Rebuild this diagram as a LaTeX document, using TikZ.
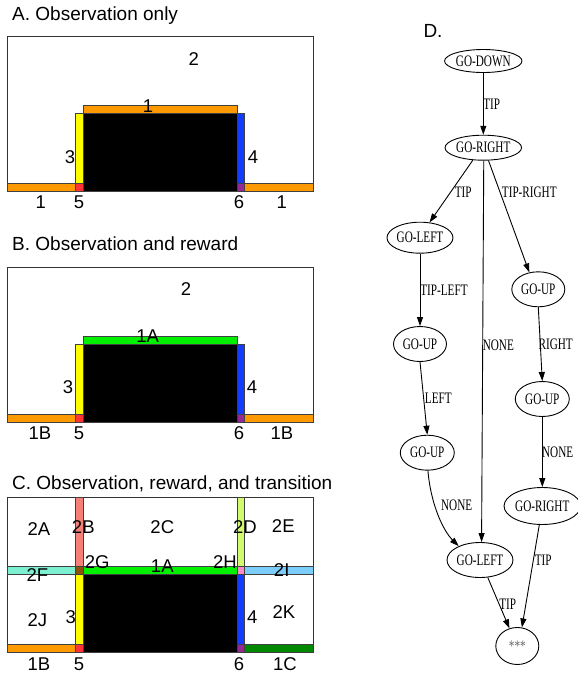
\documentclass[tikz,border=0pt]{standalone}
\usepackage{fontspec}
\setmainfont{Liberation Sans}
\newfontfamily\dotfont[FakeStretch=0.7]{Liberation Serif}
\usetikzlibrary{shapes.geometric, arrows.meta, positioning}
\usepackage{xcolor}

\definecolor{barorange}{RGB}{255,153,0}
\definecolor{baryellow}{RGB}{255,255,0}
\definecolor{barblue}{RGB}{20,60,255}
\definecolor{barred}{RGB}{255,51,51}
\definecolor{barpurple}{RGB}{150,40,150}
\definecolor{bargreen}{RGB}{0,240,0}
\definecolor{bardkgreen}{RGB}{0,136,0}
\definecolor{barsalmon}{RGB}{245,128,120}
\definecolor{barlime}{RGB}{210,250,110}
\definecolor{baraqua}{RGB}{125,240,210}
\definecolor{barbrown}{RGB}{140,80,10}
\definecolor{barpink}{RGB}{255,140,200}
\definecolor{barsky}{RGB}{125,205,250}

\tikzset{
	frame/.style={draw=black!80, line width=0.8pt},
	bar/.style={draw=black!75, line width=0.5pt},
	lab/.style={inner sep=0pt, font=\fontsize{18.5}{20}\selectfont},
	paneltitle/.style={inner sep=0pt, anchor=base west, font=\fontsize{19}{21}\selectfont},
	state/.style={ellipse, draw, line width=0.9pt, inner sep=0pt, font=\dotfont\fontsize{16}{17}\selectfont},
	elbl/.style={inner sep=0pt, font=\dotfont\fontsize{16}{17}\selectfont},
	trans/.style={-{Triangle[length=9pt,width=6pt]}, line width=0.9pt}
}

\begin{document}
\begin{tikzpicture}[x=1pt,y=-1pt]
				\useasboundingbox (0,0) rectangle (578,673);
				\node[paneltitle] (titleA) at (12,20.7) {A. Observation only};
				\node[paneltitle] (titleB) at (12,250.7) {B. Observation and reward};
				\node[paneltitle] (titleC) at (12,489) {C. Observation, reward, and transition};
				\node[paneltitle] (titleD) at (423.3,37.3) {D.};

				\draw[frame] (7,36) rectangle (313,191);
				\filldraw[bar, fill=barorange] (7,183) rectangle (75.5,191);
				\filldraw[bar, fill=barred] (75.5,183) rectangle (83,191);
				\filldraw[bar, fill=black] (83,113) rectangle (237,191);
				\filldraw[bar, fill=barorange] (83,105.5) rectangle (237,113);
				\filldraw[bar, fill=baryellow] (75.5,113) rectangle (83,183);
				\filldraw[bar, fill=barblue] (237,113) rectangle (244.5,183);
				\filldraw[bar, fill=barpurple] (237,183) rectangle (244.5,191);
				\filldraw[bar, fill=barorange] (244.5,183) rectangle (313,191);
				\node[lab] (a2) at (193.7,59) {2};
				\node[lab] (a1top) at (148,106) {1};
				\node[lab] (a3) at (70,157) {3};
				\node[lab] (a4) at (253,157) {4};
				\node[lab] (a1left) at (40.7,202) {1};
				\node[lab] (a5) at (79,202) {5};
				\node[lab] (a6) at (239,202) {6};
				\node[lab] (a1right) at (281.7,202) {1};

				\begin{scope}[shift={(0,231)}]
				\draw[frame] (7,36) rectangle (313,191);
				\filldraw[bar, fill=barorange] (7,183) rectangle (75.5,191);
				\filldraw[bar, fill=barred] (75.5,183) rectangle (83,191);
				\filldraw[bar, fill=black] (83,113) rectangle (237,191);
				\filldraw[bar, fill=bargreen] (83,105.5) rectangle (237,113);
				\filldraw[bar, fill=baryellow] (75.5,113) rectangle (83,183);
				\filldraw[bar, fill=barblue] (237,113) rectangle (244.5,183);
				\filldraw[bar, fill=barpurple] (237,183) rectangle (244.5,191);
				\filldraw[bar, fill=barorange] (244.5,183) rectangle (313,191);
				\node[lab] (b2) at (186,58) {2};
				\node[lab] (b1A) at (147.7,105) {1A};
				\node[lab] (b3) at (68,155.7) {3};
				\node[lab] (b4) at (252,155.7) {4};
				\node[lab] (b1Bleft) at (40,202) {1B};
				\node[lab] (b5) at (79,202) {5};
				\node[lab] (b6) at (239,202) {6};
				\node[lab] (b1Bright) at (282,202) {1B};
				\end{scope}

				\begin{scope}[shift={(0,461)}]
				\draw[frame] (7,36) rectangle (313,191);
				\filldraw[bar, fill=barsalmon] (75.5,36) rectangle (83,105.5);
				\filldraw[bar, fill=barlime] (237,36) rectangle (244.5,105.5);
				\filldraw[bar, fill=baraqua] (7,105.5) rectangle (75.5,113);
				\filldraw[bar, fill=barbrown] (75.5,105.5) rectangle (83,113);
				\filldraw[bar, fill=bargreen] (83,105.5) rectangle (237,113);
				\filldraw[bar, fill=barpink] (237,105.5) rectangle (244.5,113);
				\filldraw[bar, fill=barsky] (244.5,105.5) rectangle (313,113);
				\filldraw[bar, fill=barorange] (7,183) rectangle (75.5,191);
				\filldraw[bar, fill=barred] (75.5,183) rectangle (83,191);
				\filldraw[bar, fill=black] (83,113) rectangle (237,191);
				\filldraw[bar, fill=baryellow] (75.5,113) rectangle (83,183);
				\filldraw[bar, fill=barblue] (237,113) rectangle (244.5,183);
				\filldraw[bar, fill=barpurple] (237,183) rectangle (244.5,191);
				\filldraw[bar, fill=bardkgreen] (244.5,183) rectangle (313,191);
				\node[lab] (c2A) at (39,68.3) {2A};
				\node[lab] (c2B) at (83.3,66.3) {2B};
				\node[lab] (c2C) at (162.3,66.3) {2C};
				\node[lab] (c2D) at (245,66.3) {2D};
				\node[lab] (c2E) at (283.3,65) {2E};
				\node[lab] (c2G) at (97.3,101) {2G};
				\node[lab] (c1A) at (162.3,104.7) {1A};
				\node[lab] (c2H) at (225,101) {2H};
				\node[lab] (c2F) at (37.3,114) {2F};
				\node[lab] (c2I) at (281.7,109) {2I};
				\node[lab] (c2J) at (37.3,159) {2J};
				\node[lab] (c3) at (70.7,155.7) {3};
				\node[lab] (c4) at (252.3,156.3) {4};
				\node[lab] (c2K) at (284,151.3) {2K};
				\node[lab] (c1B) at (39,203) {1B};
				\node[lab] (c5) at (79,203) {5};
				\node[lab] (c6) at (239,203) {6};
				\node[lab] (c1C) at (285,203) {1C};
				\end{scope}

				\node[state, minimum width=77pt, minimum height=23pt] (godown) at (483.3,61) {GO-DOWN};
				\node[state, minimum width=74pt, minimum height=25pt] (goright) at (483.3,147.7) {GO-RIGHT};
				\node[state, minimum width=66pt, minimum height=31pt] (goleft) at (420,237.7) {GO-LEFT};
				\node[state, minimum width=53pt, minimum height=35pt] (goupR) at (538.3,289.3) {GO-UP};
				\node[state, minimum width=53pt, minimum height=35pt] (goupL) at (420,344) {GO-UP};
				\node[state, minimum width=54pt, minimum height=35pt] (goupRR) at (542.3,399) {GO-UP};
				\node[state, minimum width=54pt, minimum height=35pt] (goupLL) at (427.3,452.7) {GO-UP};
				\node[state, minimum width=72pt, minimum height=37pt] (gorightB) at (542.3,506) {GO-RIGHT};
				\node[state, minimum width=66pt, minimum height=35pt] (goleftB) at (480,560) {GO-LEFT};
				\node[state, minimum width=43pt, minimum height=37pt, text=black!60] (stars) at (517.3,646) {***};

				\draw[trans] (godown) -- (goright);
				\draw[trans] (goright.230) -- (goleft.58);
				\draw[trans] (goright.292) -- (goupR.118);
				\draw[trans] (goright.272) -- (goleftB.85);
				\draw[trans] (goleft.south) -- (goupL.north);
				\draw[trans] (goupL.south) -- (goupLL.north);
				\draw[trans] (goupR.south) -- (goupRR.north);
				\draw[trans] (goupRR.south) -- (gorightB.north);
				\draw[trans] (goupLL.272) .. controls +(3,35) and +(-15,-15) .. (goleftB.147);
				\draw[trans] (goleftB.294) -- (stars.114);
				\draw[trans] (gorightB.261) -- (stars.76);

				\node[elbl] (lbTip) at (491.7,104.3) {TIP};
				\node[elbl] (lbTipL) at (463.3,192.7) {TIP};
				\node[elbl] (lbTipRight) at (529.3,192.7) {TIP-RIGHT};
				\node[elbl] (lbNoneMid) at (498.3,345) {NONE};
				\node[elbl] (lbTipLeft) at (444,290) {TIP-LEFT};
				\node[elbl] (lbLeft) at (438.3,398.3) {LEFT};
				\node[elbl] (lbRight) at (555.7,344) {RIGHT};
				\node[elbl] (lbNoneR) at (557.7,452.3) {NONE};
				\node[elbl] (lbNoneL) at (456.7,505.7) {NONE};
				\node[elbl] (lbTipR) at (543.3,560) {TIP};
				\node[elbl] (lbTipB) at (507.7,604) {TIP};
				
			\end{tikzpicture}
\end{document}
